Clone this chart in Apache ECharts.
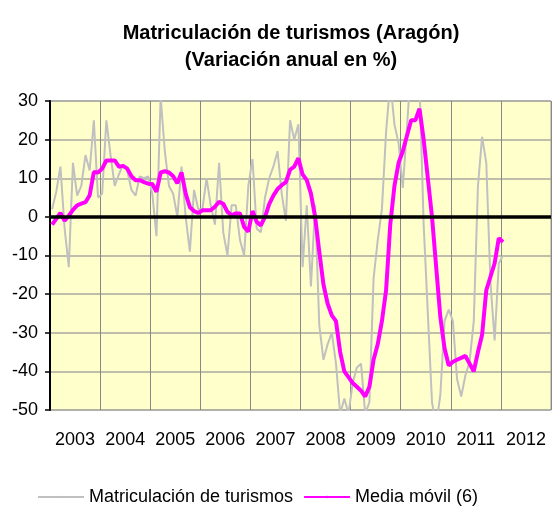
<!DOCTYPE html>
<html><head><meta charset="utf-8">
<script src="https://cdn.jsdelivr.net/npm/echarts@6/dist/echarts.min.js"></script>
<style>html,body{margin:0;padding:0;background:#fff}#c{width:552px;height:512px}</style>
</head><body><div id="c"></div>
<script>
const years = ['2003','2004','2005','2006','2007','2008','2009','2010','2011','2012'];
const yTicks = { min: -50, max: 30, step: 10 };
// monthly values, Jan 2003 .. Jan 2012
const matriculacion = [
  2, 6.5, 13, -3, -13, 14, 5.5, 8, 16, 12, 25, 5,
  6, 25, 16, 8, 11, 13.5, 12, 7, 5.5, 10.5, 10, 10.5,
  6, -5, 31, 17, 8, 6, 0, 13, 0, -9, 7, 2,
  2, 10, 3, -2, 14, -4, -10, 3, 3, -6, -10, 8,
  15, -3, -4, 5, 10, 13, 17, 6, -1, 25, 20, 24,
  -13, 3, -18, 3, -28, -37, -33, -30, -38, -51, -47, -51,
  -43, -39, -38, -51, -48, -16, -6, 2, 22, 35, 24, 19,
  7.5, 23, 40, 42, 35, -2, -25, -48, -54, -46, -27, -24,
  -27, -42, -46.5, -41, -37.5, -27, 8, 20.7, 14, -17, -32, -12,
  -10
];
const mediaMovil = [
  -2, -0.5, 1, -1, 0.3, 1.8, 3, 3.4, 3.8, 5.6, 11.6, 11.5,
  12.5, 14.6, 14.6, 14.6, 13, 13.2, 12.5, 10.5, 9.5, 9.5, 9, 8.6,
  8.5, 6.5, 11.5, 11.8, 11.5, 10.5, 8.7, 11.5, 6, 2.5, 1.5, 1,
  1.7, 1.7, 1.7, 2.6, 3.9, 3.4, 1.3, 0.4, 0.9, 0.9, -2.6, -3.8,
  1.5, -1.3, -2.2, 0, 3.3, 5.5, 7.2, 8.2, 9, 12.2, 13, 15.2,
  11, 9.5, 6, 0, -9, -17.5, -22.5, -25.5, -27, -35, -40, -41.5,
  -43, -44, -45, -46.5, -44, -37, -33, -27, -19, -2, 8, 14,
  17, 21, 25, 25, 28, 20, 10, 0, -13, -26, -34, -38.5,
  -37.5, -37, -36.5, -36, -38, -40, -35, -30.5, -19, -15.5, -12, -5.5,
  -6.5
];
const seriesNames = ['Matriculación de turismos', 'Media móvil (6)'];
const titleLines = ['Matriculación de turismos (Aragón)', '(Variación anual en %)'];

const toPts = arr => arr.map((v, i) => [i + 0.5, v]);
const FONT = 'Liberation Sans, Arial, sans-serif';

const chart = echarts.init(document.getElementById('c'), null, { renderer: 'canvas' });
chart.setOption({
  animation: false,
  backgroundColor: '#ffffff',
  title: {
    text: titleLines.join('\n'),
    left: 286, top: 15, textAlign: 'center',
    textStyle: { fontFamily: FONT, fontSize: 20, fontWeight: 'bold', color: '#000', lineHeight: 27, align: 'center' }
  },
  legend: {
    left: 37, top: 488, padding: 0,
    itemWidth: 46, itemHeight: 3, itemGap: 10,
    textStyle: { fontFamily: FONT, fontSize: 18, color: '#000' },
    data: seriesNames
  },
  grid: {
    left: 50, right: 1, top: 101, bottom: 102,
    show: true, backgroundColor: '#FFFFCC', borderColor: '#999', borderWidth: 1
  },
  xAxis: [{
    type: 'category', data: years, boundaryGap: true,
    axisLine: { show: true, lineStyle: { color: '#888', width: 1 } },
    axisTick: { show: false },
    axisLabel: { interval: 0, fontFamily: FONT, fontSize: 18, color: '#000', margin: 21 },
    splitLine: { show: true, interval: 0, lineStyle: { color: '#888', width: 1 } }
  }, {
    type: 'value', min: 0, max: 120, show: false
  }],
  yAxis: {
    type: 'value', min: yTicks.min, max: yTicks.max, interval: yTicks.step,
    axisLine: { show: true, lineStyle: { color: '#000', width: 2 } },
    axisTick: { show: true, length: 5, lineStyle: { color: '#000', width: 1.5 } },
    axisLabel: { fontFamily: FONT, fontSize: 18, color: '#000', margin: 12 },
    splitLine: { show: true, lineStyle: { color: '#A8A8A0', width: 1.5 } }
  },
  series: [{
    name: seriesNames[0], type: 'line', xAxisIndex: 1,
    data: toPts(matriculacion), symbol: 'none', clip: true,
    lineStyle: { color: '#C0C0C0', width: 2 }, itemStyle: { color: '#C0C0C0' },
    z: 2
  }, {
    name: 'zero', type: 'line', xAxisIndex: 1, data: [], z: 3,
    markLine: {
      silent: true, symbol: 'none', label: { show: false },
      lineStyle: { color: '#000', width: 3.5, type: 'solid' },
      data: [{ yAxis: 0 }]
    }
  }, {
    name: seriesNames[1], type: 'line', xAxisIndex: 1,
    data: toPts(mediaMovil), symbol: 'none', clip: true,
    lineStyle: { color: '#FF00FF', width: 4 }, itemStyle: { color: '#FF00FF' },
    z: 4
  }]
});
</script></body></html>
